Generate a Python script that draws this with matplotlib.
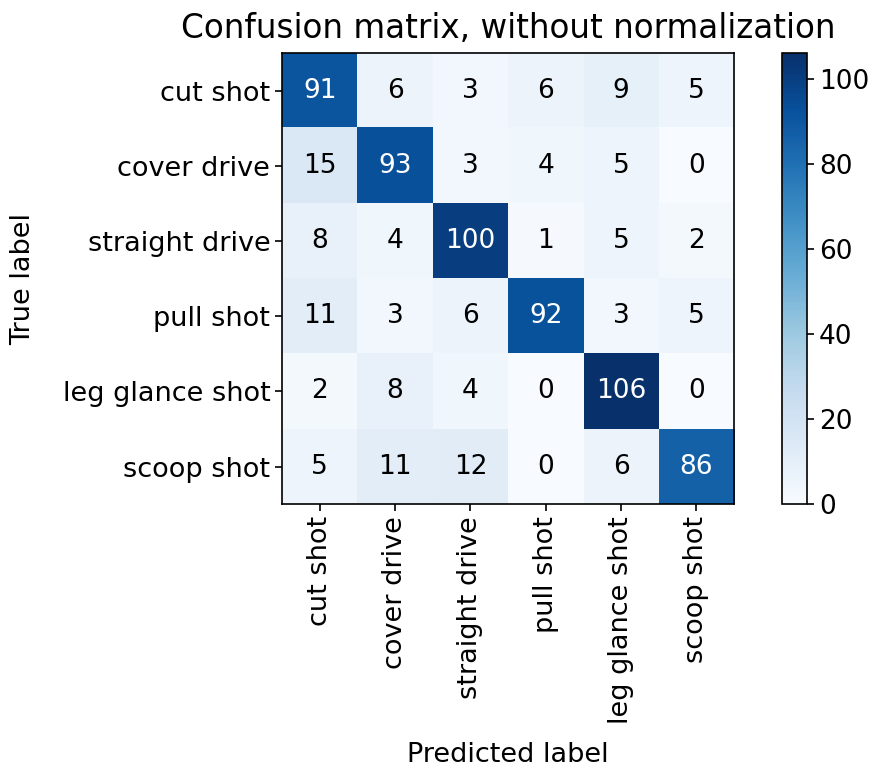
import matplotlib
matplotlib.use("Agg")
import matplotlib.pyplot as plt
import numpy as np

classes = ['cut shot', 'cover drive', 'straight drive', 'pull shot',
           'leg glance shot', 'scoop shot']

cm = np.array([
    [91, 6, 3, 6, 9, 5],
    [15, 93, 3, 4, 5, 0],
    [8, 4, 100, 1, 5, 2],
    [11, 3, 6, 92, 3, 5],
    [2, 8, 4, 0, 106, 0],
    [5, 11, 12, 0, 6, 86],
])

cbar_ticks = [0, 20, 40, 60, 80, 100]

plt.rcParams['font.family'] = ['DejaVu Sans']

fig = plt.figure(figsize=(8.76, 7.71), dpi=100)
ax = fig.add_axes([0.322, 0.346, 0.516, 0.585])
cax = fig.add_axes([0.893, 0.346, 0.0285, 0.585])

im = ax.imshow(cm, interpolation='nearest', cmap=plt.cm.Blues, aspect='auto')
ax.set_title('Confusion matrix, without normalization', fontsize=23.5, pad=11)
cb = fig.colorbar(im, cax=cax, ticks=cbar_ticks)
cb.ax.tick_params(labelsize=19, length=5, width=1.2)
cb.outline.set_linewidth(1.2)

ticks = np.arange(len(classes))
ax.set_xticks(ticks)
ax.set_xticklabels(classes, rotation=90, fontsize=19.5)
ax.set_yticks(ticks)
ax.set_yticklabels(classes, fontsize=19.5)
ax.tick_params(length=5, width=1.2)
for s in ax.spines.values():
    s.set_linewidth(1.2)

thresh = cm.max() / 2.
for i in range(cm.shape[0]):
    for j in range(cm.shape[1]):
        ax.text(j, i, format(cm[i, j], 'd'),
                ha="center", va="center", fontsize=19,
                color="white" if cm[i, j] > thresh else "black")

ax.set_ylabel('True label', fontsize=19.5)
ax.set_xlabel('Predicted label', fontsize=19.5)
ax.yaxis.set_label_coords(-0.544, 0.5)
ax.xaxis.set_label_coords(0.499, -0.528)

fig.savefig('out.png', dpi=100, facecolor='white')
